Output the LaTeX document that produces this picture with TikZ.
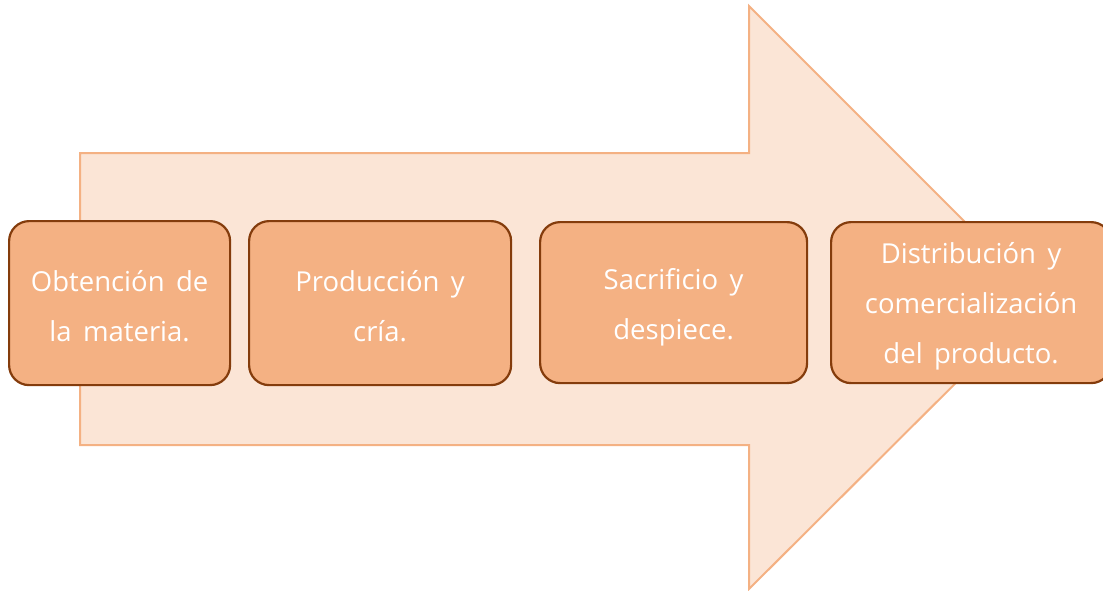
\documentclass[tikz,border=0pt]{standalone}
\usepackage{fontspec}
\setmainfont{Open Sans}[WordSpace=1.6]
\definecolor{arrowfill}{HTML}{FBE5D6}
\definecolor{arrowline}{HTML}{F4B183}
\definecolor{boxfill}{HTML}{F4B183}
\definecolor{boxline}{HTML}{843C0C}
\begin{document}
\begin{tikzpicture}[x=1pt,y=-1pt,
  stepbox/.style={draw=boxline,line width=2.2pt,fill=boxfill,rounded corners=20pt,
    inner sep=0pt,anchor=north west},
  steptext/.style={text=white,font=\fontsize{27.5}{50}\selectfont,align=center,inner sep=0pt},
  bigarrow/.style={draw=arrowline,line width=2pt,fill=arrowfill,line join=miter}]
\useasboundingbox (0,0) rectangle (1103,590);
\coordinate (a1) at (80,153);
\coordinate (a2) at (749,153);
\coordinate (a3) at (749,6);
\coordinate (tip) at (1041,298);
\coordinate (a5) at (749,589);
\coordinate (a6) at (749,445);
\coordinate (a7) at (80,445);
\draw[bigarrow] (a1) -- (a2) -- (a3) -- (tip) -- (a5) -- (a6) -- (a7) -- cycle;
\node[stepbox,minimum width=221pt,minimum height=164pt] (b1) at (8,220) {};
\node[steptext] (t1) at ([yshift=-3pt]b1.center) {Obtención de\\la materia.};
\node[stepbox,minimum width=262pt,minimum height=164pt] (b2) at (248,220) {};
\node[steptext] (t2) at ([yshift=-3pt]b2.center) {Producción y\\cría.};
\node[stepbox,minimum width=267pt,minimum height=161pt] (b3) at (539,221) {};
\node[steptext] (t3) at ([yshift=-5pt]b3.center) {Sacrificio y\\despiece.};
\node[stepbox,minimum width=280pt,minimum height=161pt] (b4) at (830,221) {};
\node[steptext] (t4) at ([yshift=-4pt]b4.center) {Distribución y\\comercialización\\del producto.};
\end{tikzpicture}
\end{document}
